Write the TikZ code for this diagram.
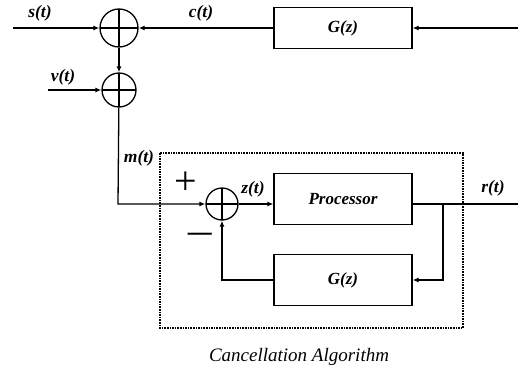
\documentclass[tikz,border=0pt]{standalone}
\usepackage{fontspec}
\setmainfont{Liberation Serif}
\usetikzlibrary{positioning,arrows.meta,calc}

\begin{document}
\begin{tikzpicture}[x=1pt, y=-1pt,
  sumnode/.style={draw, circle, line width=1.3pt, inner sep=0pt, minimum size=#1,
    path picture={\draw[line width=1.3pt]
      (path picture bounding box.north) -- (path picture bounding box.south)
      (path picture bounding box.west) -- (path picture bounding box.east);}},
  blk/.style={draw, line width=1.3pt, minimum width=138pt, minimum height=#1,
    font=\fontsize{17}{20}\selectfont\itshape\bfseries},
  sig/.style={line width=1.3pt, -{Latex[length=6pt,width=5pt]}},
  wire/.style={line width=1.3pt},
  lbl/.style={font=\fontsize{17.5}{20}\selectfont\itshape\bfseries, inner sep=0pt},
  sgn/.style={font=\fontsize{40}{42}\selectfont, inner sep=0pt}]
\useasboundingbox (0,0) rectangle (518,367);

% ================= outer loop =================
\node[sumnode=38pt] (sumA) at (119,28) {};
\node[sumnode=34pt] (sumB) at (119,90) {};
\node[blk=41pt] (gtop) at (343,28) {G(z)};

\coordinate (sin) at (13,28);
\coordinate (vin) at (48,90);
\coordinate (rin) at (518,28);
\coordinate (corner) at (118,204);

\draw[sig] (sin) -- (sumA);
\draw[sig] (rin) -- (gtop);
\draw[sig] (gtop) -- (sumA);
\draw[sig] (sumA) -- (sumB);
\draw[sig] (vin) -- (sumB);

\node[lbl] (slbl) at (40,13) {s(t)};
\node[lbl] (clbl) at (201,13) {c(t)};
\node[lbl] (vlbl) at (63,77) {v(t)};

% ================= cancellation algorithm =================
\draw[line width=2pt, dash pattern=on 1.6pt off 1pt] (160,153) rectangle (463,328);

\node[sumnode=32pt] (sumC) at (222,204) {};
\node[blk=51pt] (proc) at (343,199) {Processor};
\node[blk=51pt] (gbot) at (343,280) {G(z)};

\coordinate (branch) at (443,204);
\coordinate (rout) at (518,204);

\draw[sig] (sumB) -- (corner) -- (sumC);
\draw[sig] (sumC) -- (proc.west |- sumC);
\draw[wire] (proc.east |- sumC) -- (rout);
\draw[sig] (branch) |- (gbot.east);
\draw[sig] (gbot.west) -| (sumC);

\node[lbl] (mlbl) at (139,158) {m(t)};
\node[lbl] (zlbl) at (253,189) {z(t)};
\node[lbl] (rlbl) at (493,188) {r(t)};
\node[sgn] (plus) at (186,183) {+};
\node[sgn, xscale=1.3, transform shape] (minus) at (200,240) {−};

\node[font=\fontsize{19}{22}\selectfont\itshape, inner sep=0pt] (title) at (299,357)
  {Cancellation Algorithm};
\end{tikzpicture}
\end{document}
